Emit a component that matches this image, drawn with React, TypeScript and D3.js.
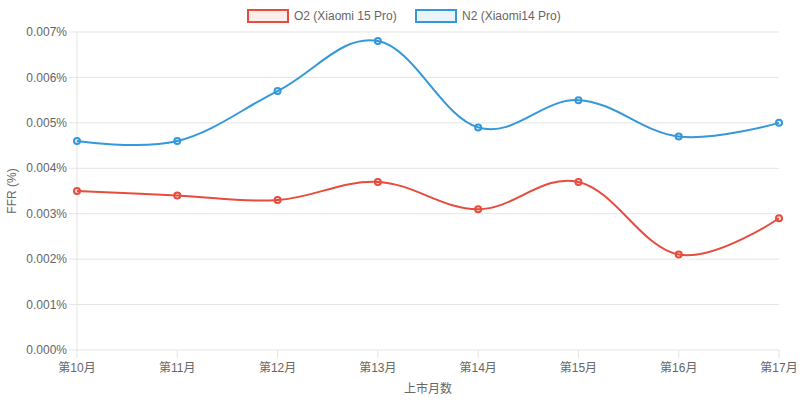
import * as d3 from "d3";

const categories = ["第10月", "第11月", "第12月", "第13月", "第14月", "第15月", "第16月", "第17月"];
const o2Values = [0.0035, 0.0034, 0.0033, 0.0037, 0.0031, 0.0037, 0.0021, 0.0029];
const n2Values = [0.0046, 0.0046, 0.0057, 0.0068, 0.0049, 0.0055, 0.0047, 0.005];
const yTicks = [0, 0.001, 0.002, 0.003, 0.004, 0.005, 0.006, 0.007];

const series = [
  { name: "O2 (Xiaomi 15 Pro)", values: o2Values, color: "#e74c3c", fill: "rgba(231,76,60,0.1)" },
  { name: "N2 (Xiaomi14 Pro)", values: n2Values, color: "#3498db", fill: "rgba(52,152,219,0.1)" },
];

const width = 800;
const height = 401;
const margin = { top: 32, right: 21, bottom: 51, left: 77 };

const App = () => {
  const x = d3
    .scalePoint<string>()
    .domain(categories)
    .range([margin.left, width - margin.right]);
  const y = d3
    .scaleLinear()
    .domain([0, 0.007])
    .range([height - margin.bottom, margin.top]);
  const line = d3
    .line<number>()
    .x((_, i) => x(categories[i]) as number)
    .y((d) => y(d))
    .curve(d3.curveCardinal.tension(-0.1));

  const font = "Helvetica, Arial, 'Liberation Sans', 'Noto Sans CJK SC', sans-serif";
  const legendX = [248, 416];

  return (
    <svg
      width={width}
      height={height}
      style={{ position: "absolute", left: 0, top: 0, fontFamily: font }}
    >
      {/* grid */}
      {yTicks.map((t) => (
        <g key={t}>
          <line x1={margin.left - 8} x2={width - margin.right} y1={y(t)} y2={y(t)} stroke="#e5e5e5" />
          <text x={margin.left - 10} y={y(t)} dy="0.35em" textAnchor="end" fontSize={12} fill="#666">
            {t.toFixed(3)}%
          </text>
        </g>
      ))}
      <line x1={margin.left} x2={margin.left} y1={margin.top} y2={height - margin.bottom} stroke="#e5e5e5" />
      {categories.map((c) => (
        <g key={c}>
          <line x1={x(c)} x2={x(c)} y1={height - margin.bottom} y2={height - margin.bottom + 8} stroke="#e5e5e5" />
          <text x={x(c)} y={height - margin.bottom + 22} textAnchor="middle" fontSize={12} fill="#666">
            {c}
          </text>
        </g>
      ))}
      <text x={(margin.left + width - margin.right) / 2} y={393} textAnchor="middle" fontSize={12} fill="#666">
        上市月数
      </text>
      <text
        transform={`translate(16,${(margin.top + height - margin.bottom) / 2}) rotate(-90)`}
        textAnchor="middle"
        fontSize={12}
        fill="#666"
      >
        FFR (%)
      </text>
      {/* legend */}
      {series.map((s, i) => (
        <g key={s.name}>
          <rect x={legendX[i]} y={10} width={40} height={12} fill={s.fill} stroke={s.color} strokeWidth={2} />
          <text x={legendX[i] + 46} y={16} dy="0.35em" fontSize={12} fill="#666">
            {s.name}
          </text>
        </g>
      ))}
      {/* lines */}
      {series.map((s) => (
        <g key={s.name}>
          <path d={line(s.values) ?? ""} fill="none" stroke={s.color} strokeWidth={2} />
          {s.values.map((v, i) => (
            <circle
              key={i}
              cx={x(categories[i])}
              cy={y(v)}
              r={3}
              fill={s.fill}
              stroke={s.color}
              strokeWidth={2}
            />
          ))}
        </g>
      ))}
    </svg>
  );
};

export default App;
